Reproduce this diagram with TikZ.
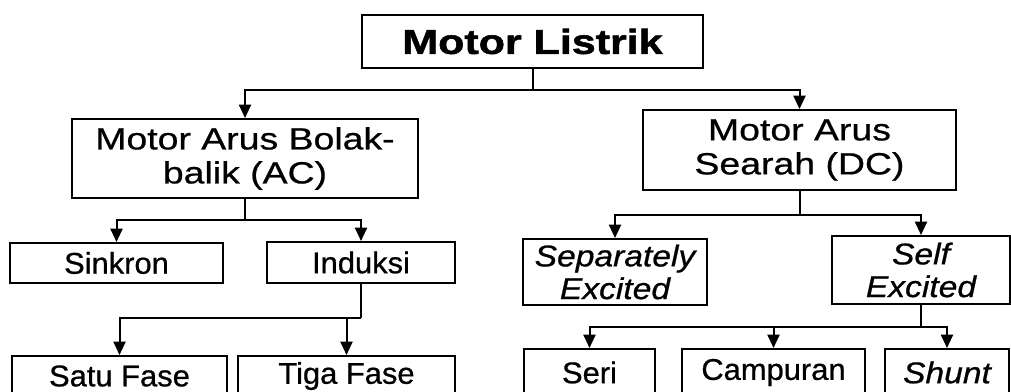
\documentclass[tikz,border=0pt]{standalone}
\usepackage{fontspec}
\setmainfont{Liberation Sans}
\newfontfamily\titlefont[FakeStretch=1.24,FakeBold=1.6]{Liberation Sans}
\newfontfamily\midfont[FakeStretch=1.22,FakeBold=0.7]{Liberation Sans}
\newfontfamily\lowfont[FakeStretch=1.03,FakeBold=0.7]{Liberation Sans}
\newfontfamily\lowitfont[FakeStretch=1.12,FakeBold=0.7]{Liberation Sans}
\usetikzlibrary{arrows.meta}
\begin{document}
\begin{tikzpicture}[x=0.75pt,y=-0.75pt,
  box/.style={draw=black,line width=1.5pt,inner sep=0pt,align=center,text=black},
  bx/.style 2 args={minimum width=#1*0.75pt,minimum height=#2*0.75pt},
  toptext/.style={font=\titlefont\bfseries\fontsize{26}{30}\selectfont},
  midtext/.style={font=\midfont\fontsize{23}{25.5}\selectfont},
  lowtext/.style={font=\lowfont\fontsize{22.5}{25}\selectfont},
  lowit/.style={font=\lowitfont\itshape\fontsize{22.5}{24.5}\selectfont},
  conn/.style={draw=black,line width=1.5pt},
  arr/.style={conn,-{Triangle[width=9pt,length=10pt]}}]
\useasboundingbox (0,0) rectangle (1011,392);
\clip (0,0) rectangle (1011,392);
% nodes
\node[box,bx={341}{53},toptext] (ML) at (532.5,41.5) {Motor Listrik};
\node[box,bx={346}{79},midtext] (AC) at (245,158.5) {Motor Arus Bolak-\\balik (AC)};
\node[box,bx={313}{80},midtext] (DC) at (799.5,150) {Motor Arus\\Searah (DC)};
\node[box,bx={213}{40},lowtext] (SIN) at (116.5,263) {Sinkron};
\node[box,bx={188}{41},lowtext] (IND) at (361,262.5) {Induksi};
\node[box,bx={184}{66},lowit] (SEP) at (615,272) {Separately\\Excited};
\node[box,bx={178}{68},lowit] (SELF) at (921,270) {Self\\Excited};
\node[box,bx={215}{40},lowtext] (SATU) at (119.5,376) {Satu Fase};
\node[box,bx={217}{40},lowtext] (TIGA) at (346.5,376) {Tiga Fase};
\node[box,bx={131}{47},lowtext] (SERI) at (589.5,372.5) {Seri};
\node[box,bx={183}{47},lowtext] (CAMP) at (773.5,372.5) {Campuran};
\node[box,bx={124}{47},lowit] (SHUNT) at (947,372.5) {Shunt};
% junctions
\coordinate (j1) at (532.5,90);
\coordinate (j2) at (245,220);
\coordinate (j3) at (799.5,215);
\coordinate (j4) at (361,318);
\coordinate (j5) at (921,327);
% connectors
\draw[conn] (ML.south) -- (j1);
\draw[arr] (j1) -| (AC.north);
\draw[arr] (j1) -| (DC.north);
\draw[conn] (AC.south) -- (j2);
\draw[arr] (j2) -| (SIN.north);
\draw[arr] (j2) -| (IND.north);
\draw[conn] (DC.south) -- (j3);
\draw[arr] (j3) -| (SEP.north);
\draw[arr] (j3) -| (SELF.north);
\draw[conn] (IND.south) -- (j4);
\draw[arr] (j4) -| (SATU.north);
\draw[arr] (TIGA.north |- j4) -- (TIGA.north);
\draw[conn] (SELF.south) -- (j5);
\draw[arr] (j5) -| (SERI.north);
\draw[arr] (j5) -| (SHUNT.north);
\draw[arr] (CAMP.north |- j5) -- (CAMP.north);
\end{tikzpicture}
\end{document}
